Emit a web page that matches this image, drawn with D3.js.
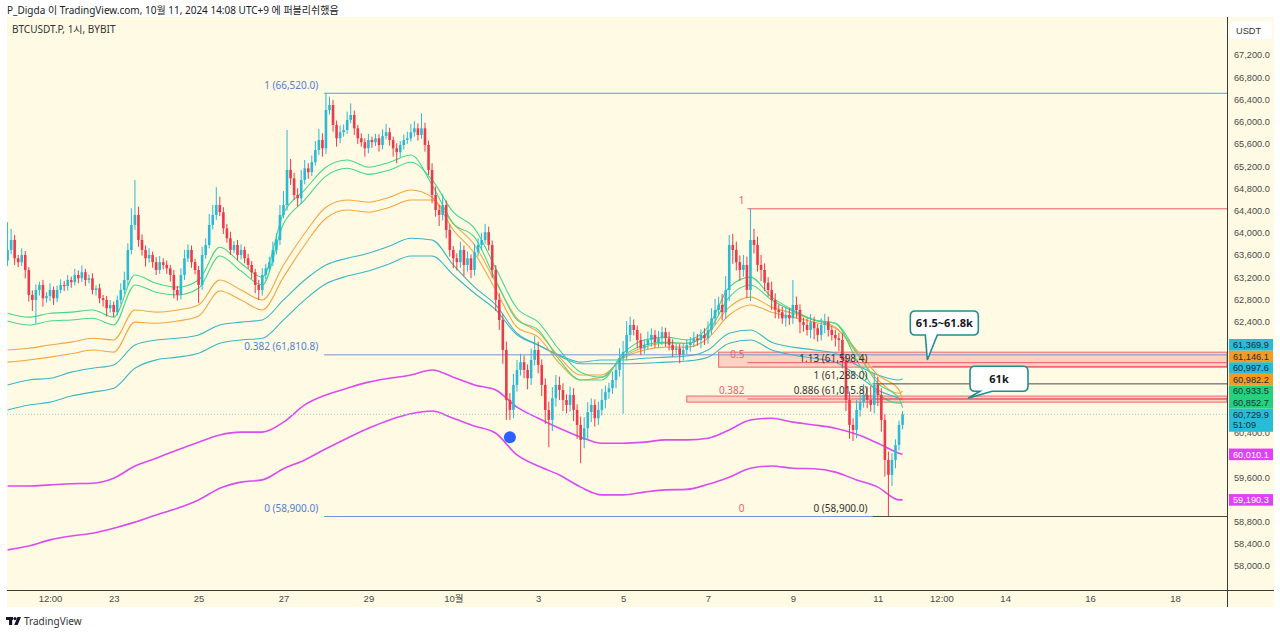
<!DOCTYPE html>
<html><head><meta charset="utf-8">
<script src="https://cdn.jsdelivr.net/npm/d3@7/dist/d3.min.js"></script>
<style>
html,body{margin:0;padding:0;background:#fff;}
svg{display:block;font-family:"Noto Sans","Noto Sans CJK KR",sans-serif;}
</style></head><body>
<svg id="c" width="1280" height="634"></svg>
<script>
// ---------- DATA ----------
const START = Date.UTC(2024,8,20,12);   // first 2h candle
const STEP_H = 2;
const firstOpen = 63500;
const closes = [63690,63870,63540,63470,63600,63330,62880,62790,62970,63060,
 62820,62860,62970,62820,62970,63060,63040,63150,63110,63240,
 63180,63290,63150,63180,62970,63000,62820,62790,62640,62700,
 62570,62790,62970,63150,63690,64140,64320,63870,63690,63540,
 63600,63470,63330,63470,63420,63360,63240,62970,62880,63240,
 63540,63690,63470,63330,63060,63600,63780,64140,64320,64500,
 64370,64080,63900,63690,63780,63600,63690,63540,63420,63290,
 63060,62970,63240,63360,63470,63690,63870,64320,64500,65130,
 64980,64680,64620,64950,65160,65090,65270,65490,65670,65520,
 66210,66300,65940,65700,65810,65850,66030,66120,65880,65700,
 65630,65520,65670,65630,65700,65580,65740,65810,65670,65520,
 65450,65580,65670,65700,65810,65880,65760,65880,65580,65130,
 64680,64410,64320,64500,64050,63690,63540,63470,63690,63420,
 63540,63330,63650,63780,63870,64010,63780,63330,62790,62430,
 61890,60990,60810,61260,61530,61670,61530,61380,61710,61890,
 61620,61260,60810,60630,61020,61260,61170,60990,60900,61080,
 60810,60540,60270,60480,60770,60900,60660,60810,60990,61130,
 61200,61350,61530,61740,61850,62160,62340,62250,62070,61920,
 61980,62070,62160,62030,62100,62210,62100,61980,61890,61920,
 61800,61890,61980,62030,62100,62070,62160,62100,62250,62460,
 62610,62700,62570,62970,63780,63690,63470,63330,63420,62970,
 63870,63780,63420,63330,63100,62970,62790,62610,62570,62460,
 62520,62460,62700,62610,62390,62340,62250,62390,62280,62160,
 62340,62390,62250,62160,62100,62070,61710,60990,60540,60450,
 60810,60950,61080,60990,60900,61260,61080,60630,59910,59640,
 59910,60180,60540,60729.9];
const wickUp = [500,200,90,60,120,70,50,80,100,60,90,70,120,60,80,100,70,90,60,110,
 80,120,60,70,90,50,80,60,70,90,60,80,120,150,120,300,630,150,100,80,
 120,60,90,110,70,80,60,90,70,120,150,100,80,60,70,150,120,200,180,320,
 150,90,80,120,70,90,100,60,80,70,60,90,120,80,100,150,120,180,250,720,
 200,100,120,180,150,90,120,160,200,120,310,150,90,80,120,100,150,210,80,60,
 90,70,110,60,80,70,120,150,80,60,90,70,100,120,150,130,90,270,100,80,
 120,150,90,200,80,100,70,90,150,80,120,70,150,120,130,150,100,80,90,120,
 100,150,120,200,180,150,120,100,200,250,150,100,120,150,200,180,150,120,100,150,
 120,100,150,200,180,120,100,150,200,120,100,150,120,180,200,250,150,100,80,120,
 100,150,120,90,130,100,80,120,100,90,80,120,100,90,120,80,100,120,150,180,
 200,150,200,250,180,200,150,120,180,150,570,200,150,180,120,100,150,120,100,100,
 150,120,450,150,100,80,120,150,100,80,120,150,100,80,90,100,120,100,150,120,
 180,150,200,150,250,200,150,120,100,150,120,100,80,60];
const wickDn = [100,80,120,90,70,150,120,200,430,100,150,80,90,120,70,60,90,80,100,60,
 90,70,110,60,80,100,90,120,150,80,90,60,80,70,100,80,90,120,100,150,
 80,100,90,70,80,100,120,150,100,80,90,70,100,80,330,90,70,60,80,90,
 70,100,80,90,60,100,80,90,70,120,150,180,100,80,60,70,80,90,60,100,
 120,90,150,100,80,120,70,60,90,150,100,80,120,150,90,80,70,60,120,100,
 80,150,90,100,70,120,80,60,100,150,200,90,80,70,60,80,100,70,120,90,
 150,120,200,100,150,120,180,150,100,200,120,150,100,80,90,70,100,150,200,180,
 250,360,180,150,120,100,150,200,120,100,150,200,250,490,200,150,180,200,150,120,
 200,250,420,150,200,180,150,120,100,150,120,100,150,120,1000,150,120,100,150,120,
 100,80,120,100,90,120,150,100,120,90,150,100,80,120,90,100,150,120,100,80,
 120,100,150,120,200,250,150,200,120,150,200,150,120,200,150,120,180,150,120,100,
 150,120,100,150,200,120,100,150,200,120,100,150,120,100,150,200,150,200,250,200,
 150,120,100,150,120,150,200,210,300,740,200,150,100,80];

// indicator lines, sampled every 12h from START, last point = now
const LINE_STEP_H = 12;
const NOW = Date.UTC(2024,9,11,14);
const g1 = [62550,62480,62550,62570,62610,62480,63240,63090,63020,63150,63740,63450,63200,64350,64770,65180,65310,65180,65270,65400,64860,64170,63920,63150,62430,62250,61710,61350,61350,61830,62070,62120,62070,62300,63020,63200,62840,62610,62430,62370,61710,61110,60930,60933.5];
const g2 = [62410,62340,62410,62430,62460,62340,63060,62930,62880,63000,63580,63310,63060,64160,64590,65020,65160,65050,65130,65270,64950,64370,64080,63360,62640,62390,61890,61490,61400,61780,61980,62030,62010,62210,62840,63060,62790,62590,62430,62370,61850,61290,61020,60852.7];
const o1 = [61890,61920,61980,62030,62100,62070,62610,62570,62610,62700,63150,62970,62790,63420,63990,64460,64590,64550,64640,64770,64640,64050,63630,62970,62300,62120,61650,61350,61400,61760,61940,62010,62010,62190,62660,62840,62660,62550,62430,62300,61830,61350,61110,61146.1];
const o2 = [61670,61710,61760,61820,61890,61850,62390,62370,62410,62500,62950,62790,62610,63200,63780,64260,64410,64370,64460,64590,64590,64160,63780,63110,62460,62210,61760,61440,61440,61740,61890,61940,61940,62100,62520,62700,62570,62480,62390,62280,61890,61440,61170,60982.2];
const t1 = [61260,61350,61380,61490,61560,61620,61980,62070,62100,62160,62340,62390,62430,62790,63150,63420,63540,63630,63760,63900,63870,63420,63020,62700,62190,61980,61800,61670,61710,61710,61740,61760,61780,61890,62190,62250,62030,61940,61890,61830,61620,61440,61350,61369.9];
const t2 = [60810,60900,60950,61060,61130,61200,61560,61710,61760,61830,62010,62070,62100,62430,62790,63080,63220,63310,63440,63580,63580,63240,62910,62610,62160,61980,61780,61640,61640,61640,61650,61670,61690,61760,62010,62070,61890,61800,61740,61670,61440,61170,61020,60997.6];
const m1 = [59440,59440,59460,59480,59490,59580,59800,59940,60090,60230,60360,60410,60410,60590,60900,61080,61200,61310,61380,61440,61530,61400,61260,61170,60860,60660,60480,60320,60210,60210,60230,60270,60270,60300,60450,60630,60660,60590,60540,60480,60370,60210,60030,60010.1];
const m2 = [58290,58360,58470,58540,58590,58680,58790,58920,59040,59190,59400,59510,59550,59750,59910,60110,60300,60480,60630,60740,60790,60660,60520,60390,60000,59800,59640,59420,59280,59280,59330,59370,59380,59470,59600,59760,59800,59760,59750,59690,59550,59420,59190,59190.3];

const priceTickStart = 58000, priceTickEnd = 67200, priceTickStep = 400;
const timeTickDates = ["2024-09-21T12:00Z","2024-09-23T00:00Z","2024-09-25T00:00Z","2024-09-27T00:00Z","2024-09-29T00:00Z","2024-10-01T00:00Z","2024-10-03T00:00Z","2024-10-05T00:00Z","2024-10-07T00:00Z","2024-10-09T00:00Z","2024-10-11T00:00Z","2024-10-12T12:00Z","2024-10-14T00:00Z","2024-10-16T00:00Z","2024-10-18T00:00Z"];
const timeTickLabels = ["12:00","23","25","27","29","10월","3","5","7","9","11","12:00","14","16","18"];

// fib tools
const fib1 = {start:"2024-09-27T23:00Z", levels:[66520, 61810.8, 58900], labels:["1 (66,520.0)","0.382 (61,810.8)","0 (58,900.0)"]};
const fib2 = {start:"2024-10-08T00:00Z", levels:[64440, 61670, 61016], labels:["1","0.5","0.382"], zeroLabel:"0", zero:58900};
const fib3 = {start:"2024-10-10T21:00Z", levels:[61598.4, 61288, 61015.8, 58900], labels:["1.13 (61,598.4)","1 (61,288.0)","0.886 (61,015.8)","0 (58,900.0)"]};
const zones = [{start:"2024-10-07T06:00Z", hi:61850, lo:61580},{start:"2024-10-06T12:00Z", hi:61060, lo:60950}];
const callouts = [{text:"61.5~61.8k", t:"2024-10-12T04:00Z", p:61710},{text:"61k", t:"2024-10-13T03:00Z", p:61020}];
const dot = {t:"2024-10-02T08:00Z", p:60320};
const sideLabels = [{v:61369.9,c:"#27bcd8"},{v:61146.1,c:"#f59a23"},{v:60997.6,c:"#27bcd8"},{v:60982.2,c:"#f59a23"},{v:60933.5,c:"#22d37c"},{v:60852.7,c:"#22d37c"}];
const curLabel = {v:60729.9, c:"#27bcd8", sub:"51:09"};
const bandLabels = [{v:60010.1,c:"#e040fb"},{v:59190.3,c:"#e040fb"}];

// ---------- DRAW ----------
const svg = d3.select("#c");
const PL=7, PR=1227, PT=17, PB=590, FR=1274, FB=607;
const AXF = "'Liberation Sans',Arial,sans-serif";
const x = d3.scaleUtc().domain([new Date(Date.UTC(2024,8,21)), new Date(Date.UTC(2024,9,19))]).range([28.8, 1217.4]);
const y = d3.scaleLinear().domain([58000, 67200]).range([566, 55]);
const fmt = d3.format(",.1f");

svg.append("rect").attr("x",0).attr("y",0).attr("width",1280).attr("height",634).attr("fill","#ffffff");
svg.append("text").attr("x",7).attr("y",14).attr("font-size",10).attr("fill","#222")
  .text("P_Digda 이 TradingView.com, 10월 11, 2024 14:08 UTC+9 에 퍼블리쉬했음");
svg.append("rect").attr("x",PL).attr("y",PT).attr("width",FR-PL).attr("height",FB-PT).attr("fill","#fffae3");

svg.append("defs").append("clipPath").attr("id","clip").append("rect")
  .attr("x",PL).attr("y",PT).attr("width",PR-PL).attr("height",PB-PT);
const plot = svg.append("g").attr("clip-path","url(#clip)");

// candles data
const candles = closes.map((c,i)=>{
  const o = i===0 ? firstOpen : closes[i-1];
  return {t:new Date(START + i*STEP_H*3600000), o, c, h:Math.max(o,c)+wickUp[i], l:Math.min(o,c)-wickDn[i]};
});
const lineTimes = g1.map((_,k)=> k===g1.length-1 ? new Date(NOW) : new Date(START + k*LINE_STEP_H*3600000));

// zones (behind)
zones.forEach(z=>{
  plot.append("rect").attr("x",x(new Date(z.start))).attr("y",y(z.hi))
    .attr("width",PR - x(new Date(z.start))).attr("height",y(z.lo)-y(z.hi))
    .attr("fill","rgba(242,54,69,0.2)").attr("stroke","rgba(235,60,75,0.75)").attr("stroke-width",1);
});

// magenta bands
const lineGen = d3.line().x((d,i)=>x(lineTimes[i])).y(d=>y(d)).curve(d3.curveMonotoneX);
[m1,m2].forEach(s=>plot.append("path").attr("d",lineGen(s)).attr("fill","none").attr("stroke","#d94cf0").attr("stroke-width",1.6));

// MA lines
[[t2,"#3ab6c9"],[t1,"#3ab6c9"],[o2,"#f5a640"],[o1,"#f5a640"],[g2,"#42d98c"],[g1,"#42d98c"]].forEach(([s,c])=>
  plot.append("path").attr("d",lineGen(s)).attr("fill","none").attr("stroke",c).attr("stroke-width",1.1));

// current price dotted line
plot.append("line").attr("x1",PL).attr("x2",PR).attr("y1",y(curLabel.v)).attr("y2",y(curLabel.v))
  .attr("stroke","#9fd4cf").attr("stroke-dasharray","1,2").attr("stroke-width",1);

// fib 1 (blue)
const fx1 = x(new Date(fib1.start));
fib1.levels.forEach((v,i)=>{
  const xe = i===2 ? x(new Date(fib3.start)) : PR;
  plot.append("line").attr("x1",fx1).attr("x2",xe).attr("y1",y(v)+0.5).attr("y2",y(v)+0.5).attr("stroke","#6d95da").attr("stroke-width",1);
  plot.append("text").attr("x",fx1-6).attr("y",y(v)-4).attr("text-anchor","end").attr("font-size",10).attr("fill","#4f7fd6").text(fib1.labels[i]);
});
// fib 2 (red)
const fx2 = x(new Date(fib2.start));
fib2.levels.forEach((v,i)=>{
  plot.append("line").attr("x1",fx2-3).attr("x2",PR).attr("y1",y(v)+0.5).attr("y2",y(v)+0.5).attr("stroke","#ee5a68").attr("stroke-width",1);
  plot.append("text").attr("x",fx2-6).attr("y",y(v)-4).attr("text-anchor","end").attr("font-size",10).attr("fill","#f0606c").text(fib2.labels[i]);
});
plot.append("text").attr("x",fx2-6).attr("y",y(fib2.zero)-4).attr("text-anchor","end").attr("font-size",10).attr("fill","#f0606c").text(fib2.zeroLabel);
// fib 3 (black)
const fx3 = x(new Date(fib3.start));
fib3.levels.forEach((v,i)=>{
  const col = (i===1||i===3) ? "#4a4a4a" : "rgba(230,60,75,0.7)";
  plot.append("line").attr("x1",fx3).attr("x2",PR).attr("y1",y(v)+0.5).attr("y2",y(v)+0.5).attr("stroke",col).attr("stroke-width",1);
});

// candles
const cg = plot.append("g");
candles.forEach(d=>{
  const up = d.c >= d.o, col = up ? "#2bb9d6" : "#eb3b4b", cx = x(d.t);
  cg.append("line").attr("x1",cx).attr("x2",cx).attr("y1",y(d.h)).attr("y2",y(d.l)).attr("stroke",col).attr("stroke-width",1);
  const yt = y(Math.max(d.o,d.c)), yb = y(Math.min(d.o,d.c));
  cg.append("rect").attr("x",cx-1.3).attr("y",yt).attr("width",2.6).attr("height",Math.max(1,yb-yt)).attr("fill",col);
});

// fib3 labels over candles
fib3.levels.forEach((v,i)=>{
  plot.append("text").attr("x",fx3-5).attr("y",y(v)-4).attr("text-anchor","end").attr("font-size",10).attr("fill","#333").text(fib3.labels[i]);
});

// blue dot
plot.append("circle").attr("cx",x(new Date(dot.t))).attr("cy",y(dot.p)).attr("r",6).attr("fill","#2962ff");

// callouts
function callout(c, bw, bh, dx, dy, tail){
  const tx = x(new Date(c.t)), ty = y(c.p);
  const x0 = tx+dx, y0 = ty+dy, x1 = x0+bw, y1 = y0+bh, r=5;
  const [ta, tb] = tail;
  const p = `M${x0+r},${y0} H${x1-r} Q${x1},${y0} ${x1},${y0+r} V${y1-r} Q${x1},${y1} ${x1-r},${y1} H${x0+tb} L${tx},${ty} L${x0+ta},${y1} H${x0+r} Q${x0},${y1} ${x0},${y1-r} V${y0+r} Q${x0},${y0} ${x0+r},${y0} Z`;
  plot.append("path").attr("d",p).attr("fill","#ffffff").attr("stroke","#1f8e93").attr("stroke-width",1.6);
  plot.append("text").attr("x",(x0+x1)/2).attr("y",(y0+y1)/2+4).attr("text-anchor","middle")
    .attr("font-size",11).attr("font-weight","bold").attr("fill","#131722").text(c.text);
}
callout(callouts[0], 68, 24, -17, -49, [15, 27]);
callout(callouts[1], 58, 25, 2, -32, [10, 22]);

// symbol text
svg.append("text").attr("x",12).attr("y",32.5).attr("font-size",10).attr("fill","#333").text("BTCUSDT.P, 1시, BYBIT");

// frame lines
svg.append("line").attr("x1",PR+0.5).attr("x2",PR+0.5).attr("y1",PT).attr("y2",FB).attr("stroke","#3a3a3a");
svg.append("line").attr("x1",PL).attr("x2",FR).attr("y1",PB+0.5).attr("y2",PB+0.5).attr("stroke","#3a3a3a");

// price tags layout (stacked above the live price tag)
const LH = 11.6;
const tags = [];
const curY = y(curLabel.v);
tags.push({yc:curY, v:curLabel.v, c:curLabel.c, light:false, sub:curLabel.sub});
let stackTop = curY - LH/2;
sideLabels.slice().sort((a,b)=>a.v-b.v).forEach(l=>{
  const yc = Math.min(y(l.v), stackTop - LH/2);
  tags.push({yc, v:l.v, c:l.c, light:false});
  stackTop = yc - LH/2;
});
bandLabels.forEach(l=>tags.push({yc:y(l.v), v:l.v, c:l.c, light:true}));
const covered = p => tags.some(t => { const yy=y(p); return yy >= t.yc-LH/2 && yy <= t.yc-LH/2+(t.sub?2*LH:LH); });

// right axis
const priceTicks = d3.range(priceTickStart, priceTickEnd+1, priceTickStep).filter(p=>!covered(p));
const ra = svg.append("g").attr("transform",`translate(${PR+3},0)`)
  .call(d3.axisRight(y).tickValues(priceTicks).tickFormat(fmt).tickSize(0).tickPadding(4));
ra.select(".domain").remove();
ra.selectAll("text").attr("font-size",9.2).attr("fill","#4a4a4a").attr("font-family",AXF);

// bottom axis
const ba = svg.append("g").attr("transform",`translate(0,${PB})`)
  .call(d3.axisBottom(x).tickValues(timeTickDates.map(s=>new Date(s))).tickFormat((d,i)=>timeTickLabels[i]).tickSize(0).tickPadding(5));
ba.select(".domain").remove();
ba.selectAll("text").attr("font-size",9.5).attr("fill","#4a4a4a").attr("font-family","'Liberation Sans','Noto Sans CJK KR',sans-serif");

// USDT box
svg.append("rect").attr("x",PR+3).attr("y",21).attr("width",42).attr("height",18).attr("rx",2).attr("fill","#ffffff");
svg.append("text").attr("x",PR+9).attr("y",33.5).attr("font-size",9.2).attr("fill","#333").attr("font-family",AXF).text("USDT");

// draw tags
tags.forEach(t=>{
  const h = t.sub ? LH*2 : LH;
  svg.append("rect").attr("x",PR+2).attr("y",t.yc-LH/2).attr("width",44).attr("height",h).attr("fill",t.c);
  svg.append("text").attr("x",PR+6).attr("y",t.yc+3.3).attr("font-size",9.2).attr("font-family",AXF)
    .attr("fill",t.light?"#ffffff":"#10303c").text(fmt(t.v));
  if(t.sub) svg.append("text").attr("x",PR+6).attr("y",t.yc+LH+2.4).attr("font-size",9.2).attr("font-family",AXF)
    .attr("fill","#10303c").text(t.sub);
});

// footer logo
const lg = svg.append("g").attr("fill","#131722");
lg.append("rect").attr("x",6).attr("y",617).attr("width",7).attr("height",3);
lg.append("rect").attr("x",9).attr("y",617).attr("width",3.2).attr("height",8);
lg.append("circle").attr("cx",15).attr("cy",618.6).attr("r",1.6);
lg.append("path").attr("d","M17.5,617 L21,617 L17.6,625 L14.2,625 Z");
svg.append("text").attr("x",24).attr("y",625).attr("font-size",10).attr("fill","#333").text("TradingView");
</script>
</body></html>
